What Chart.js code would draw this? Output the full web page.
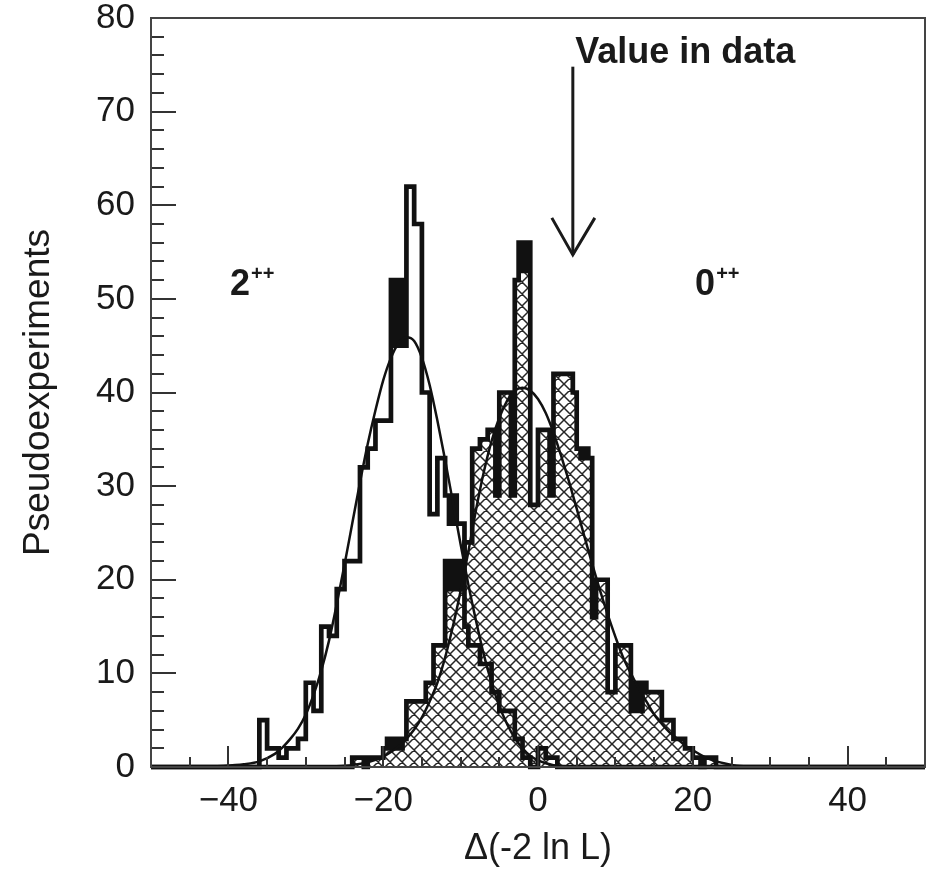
<!DOCTYPE html>
<html><head><meta charset="utf-8">
<script src="https://cdn.jsdelivr.net/npm/chart.js@4.4.1/dist/chart.umd.min.js"></script>
<style>html,body{margin:0;padding:0;background:#fff;overflow:hidden}#wrap{width:926px;height:871px}</style>
</head><body><div id="wrap"><canvas id="c" width="926" height="871"></canvas></div>
<script>
// ---- data ----
const xTickValues = [-40, -20, 0, 20, 40];
const xTickLabels = ['\u221240', '\u221220', '0', '20', '40'];
const yTickValues = [0, 10, 20, 30, 40, 50, 60, 70, 80];
const binWidth = 0.5;
// 2++ pseudoexperiments (open histogram), bins of 0.5 starting at -37
const spin2Start = -37;
const spin2Counts = [0,0, 5,5, 2,2, 2,1, 1,2, 2,2, 3,3, 9,9, 6,6, 15,15, 14,14, 19,19, 22,22, 22,22,
  32,32, 34,34, 37,37, 37,37, 52,45, 52,45, 62,62, 58,58, 40,40, 27,27, 33,33, 29,26, 29,26, 26,15,
  13,13, 13,11, 11,11, 8,8, 6,6, 6,6, 3,3, 1,1, 0,0, 2,2, 1,1, 1,0];
// 0++ pseudoexperiments (hatched histogram), bins of 0.5 starting at -25
const spin0Start = -25;
const spin0Counts = [0,0, 1,1, 1,0, 1,1, 1,1, 2,3, 2,3, 2,3, 7,7, 7,7, 7,9, 9,13, 13,13, 22,19, 22,19,
  22,24, 24,34, 34,35, 35,36, 36,29, 40,40, 40,29, 52,56, 53,56, 28,28, 36,36, 36,29, 42,42, 42,42,
  42,40, 34,33, 34,33, 16,20, 20,20, 8,8, 13,13, 13,13, 6,9, 6,9, 8,8, 8,8, 5,5, 5,3, 3,3, 2,2,
  1,1, 0,1, 1,1, 0,0];
// fitted curves
const fit2X = [-42,-38,-36,-34,-33,-32,-31,-30,-29,-28,-27,-26,-25,-24,-23,-22,-21,-20,-19,-18,-17,-16,-15,-14,-13,-12,-11,-10,-9,-8,-7,-6,-5,-4,-3,-2,-1,0,1,2,4];
const fit2Y = [0.05,0.3,0.6,1.4,2.1,3.0,4.1,5.6,7.7,10.3,13.5,17.4,21.6,26.0,30.4,34.5,38.1,41.3,43.7,45.3,45.9,45.5,43.7,40.8,37.0,32.8,28.3,23.8,19.5,15.6,12.0,9.0,6.5,4.6,3.1,2.0,1.2,0.7,0.4,0.2,0.05];
const fit0X = [-27,-24,-22,-20,-19,-18,-17,-16,-15,-14,-13,-12,-11,-10,-9,-8,-7,-6,-5,-4,-3,-2,-1,0,1,2,3,4,5,6,7,8,9,10,11,12,13,14,15,16,17,18,19,20,21,22,23,24,26,28];
const fit0Y = [0.05,0.2,0.5,1.1,1.6,2.2,3.0,4.0,5.3,7.0,9.0,11.7,15.0,18.8,23.0,27.5,31.5,34.8,37.3,39.1,40.2,40.5,40.2,39.3,37.8,35.7,33.2,30.5,27.6,24.6,21.7,18.9,16.3,13.9,11.7,10.0,8.4,7.0,5.6,4.6,3.7,3.0,2.3,1.8,1.3,0.9,0.6,0.4,0.1,0.03];
const annotations = {
  arrowX: 4.5, arrowTop: 74.8, arrowTip: 54.7,
  valueText: 'Value in data', valueX: 4.8, valueY: 75.2,
  spin2Text: '2', spin2X: -39.8, spin0Text: '0', spin0X: 20.3, labelY: 50.4, sup: '++'
};

// ---- helpers ----
function histPoints(start, counts) {
  const pts = [{x: -50, y: 0}, {x: start, y: 0}];
  counts.forEach((c, i) => pts.push({x: start + i * binWidth, y: c}));
  pts.push({x: start + counts.length * binWidth, y: 0});
  pts.push({x: 50, y: 0});
  return pts;
}
function makeHatch() {
  const s = 12, c = document.createElement('canvas');
  c.width = s; c.height = s;
  const g = c.getContext('2d');
  g.fillStyle = '#ffffff'; g.fillRect(0, 0, s, s);
  g.strokeStyle = '#262626'; g.lineWidth = 1.5;
  g.beginPath();
  for (const k of [-1, 0, 1]) { g.moveTo(k * s, 0); g.lineTo(k * s + s, s); }
  for (const k of [0, 1, 2]) { g.moveTo(k * s, 0); g.lineTo(k * s - s, s); }
  g.stroke();
  return g.createPattern(c, 'repeat');
}
const FONT = '"Liberation Sans", Arial, Helvetica, sans-serif';
const TXT = '#1a1a1a';

const frameTicks = {
  id: 'frameTicks',
  afterDatasetsDraw(chart) {
    const {ctx, chartArea: a, scales: {x, y}} = chart;
    ctx.save();
    ctx.strokeStyle = '#333'; ctx.lineWidth = 2;
    ctx.beginPath();
    for (let v = 2; v < 80; v += 2) {
      const p = Math.round(y.getPixelForValue(v));
      ctx.moveTo(a.left, p); ctx.lineTo(a.left + (v % 10 === 0 ? 25 : 13), p);
    }
    for (let v = -45; v < 50; v += 5) {
      const p = Math.round(x.getPixelForValue(v));
      ctx.moveTo(p, a.bottom); ctx.lineTo(p, a.bottom - (v % 20 === 0 ? 21 : 10));
    }
    ctx.stroke();
    ctx.strokeStyle = '#444'; ctx.lineWidth = 2;
    ctx.strokeRect(a.left, a.top, a.right - a.left, a.bottom - a.top);
    ctx.restore();
  }
};
const annot = {
  id: 'annot',
  afterDraw(chart) {
    const {ctx, scales: {x, y}} = chart;
    const A = annotations;
    ctx.save();
    ctx.fillStyle = TXT; ctx.strokeStyle = '#1a1a1a';
    ctx.textAlign = 'left'; ctx.textBaseline = 'alphabetic';
    ctx.font = 'bold 36px ' + FONT;
    ctx.fillText(A.valueText, x.getPixelForValue(A.valueX), y.getPixelForValue(A.valueY));
    const ax = x.getPixelForValue(A.arrowX), at = y.getPixelForValue(A.arrowTop), tip = y.getPixelForValue(A.arrowTip);
    ctx.lineWidth = 3;
    ctx.beginPath(); ctx.moveTo(ax, at); ctx.lineTo(ax, tip); ctx.stroke();
    ctx.beginPath(); ctx.moveTo(ax - 21, tip - 37); ctx.lineTo(ax, tip); ctx.lineTo(ax + 22, tip - 37); ctx.stroke();
    for (const [t, xv] of [[A.spin2Text, A.spin2X], [A.spin0Text, A.spin0X]]) {
      const px = x.getPixelForValue(xv), py = y.getPixelForValue(A.labelY);
      ctx.font = 'bold 36px ' + FONT;
      ctx.fillText(t, px, py);
      const w = ctx.measureText(t).width;
      ctx.font = 'bold 20px ' + FONT;
      ctx.fillText(A.sup, px + w + 1, py - 15);
    }
    ctx.restore();
  }
};

const hatch = makeHatch();
new Chart(document.getElementById('c'), {
  type: 'line',
  data: {
    datasets: [
      {label: 'fit 2++', data: fit2X.map((v, i) => ({x: v, y: fit2Y[i]})), borderColor: '#111', borderWidth: 2.5,
       pointRadius: 0, cubicInterpolationMode: 'monotone', fill: false, order: 1},
      {label: 'fit 0++', data: fit0X.map((v, i) => ({x: v, y: fit0Y[i]})), borderColor: '#111', borderWidth: 2.5,
       pointRadius: 0, cubicInterpolationMode: 'monotone', fill: false, order: 1},
      {label: '2++', data: histPoints(spin2Start, spin2Counts), stepped: 'before', borderColor: '#111', borderWidth: 4.7,
       borderJoinStyle: 'miter', pointRadius: 0, fill: false, clip: false, order: 2},
      {label: '0++', data: histPoints(spin0Start, spin0Counts), stepped: 'before', borderColor: '#111', borderWidth: 4.7,
       borderJoinStyle: 'miter', pointRadius: 0, fill: 'origin', backgroundColor: hatch, clip: false, order: 3}
    ]
  },
  options: {
    responsive: false, animation: false, devicePixelRatio: 1,
    layout: {padding: {top: 18, right: 1, bottom: 0, left: 0}},
    plugins: {legend: {display: false}, tooltip: {enabled: false}},
    scales: {
      x: {
        type: 'linear', min: -50, max: 50,
        afterBuildTicks: s => { s.ticks = xTickValues.map(v => ({value: v})); },
        ticks: {callback: v => xTickLabels[xTickValues.indexOf(v)], font: {family: FONT, size: 35}, color: TXT,
                padding: 13, maxRotation: 0, autoSkip: false},
        grid: {display: false, drawTicks: false}, border: {display: false},
        title: {display: true, text: '\u0394(-2 ln L)', font: {family: FONT, size: 36, lineHeight: 1.2}, color: TXT,
                padding: {top: 0, bottom: 0}},
        afterFit: s => { s.height = 104; s.paddingLeft = 0; s.paddingRight = 0; }
      },
      y: {
        min: 0, max: 80,
        afterBuildTicks: s => { s.ticks = yTickValues.map(v => ({value: v})); },
        ticks: {font: {family: FONT, size: 35, lineHeight: 1}, color: TXT, padding: 16},
        grid: {display: false, drawTicks: false}, border: {display: false},
        title: {display: true, text: 'Pseudoexperiments', font: {family: FONT, size: 37, lineHeight: 1.2}, color: TXT,
                padding: {top: 17, bottom: 0}},
        afterFit: s => { s.width = 151; s.paddingTop = 0; s.paddingBottom = 0; }
      }
    }
  },
  plugins: [frameTicks, annot]
});
</script></body></html>
